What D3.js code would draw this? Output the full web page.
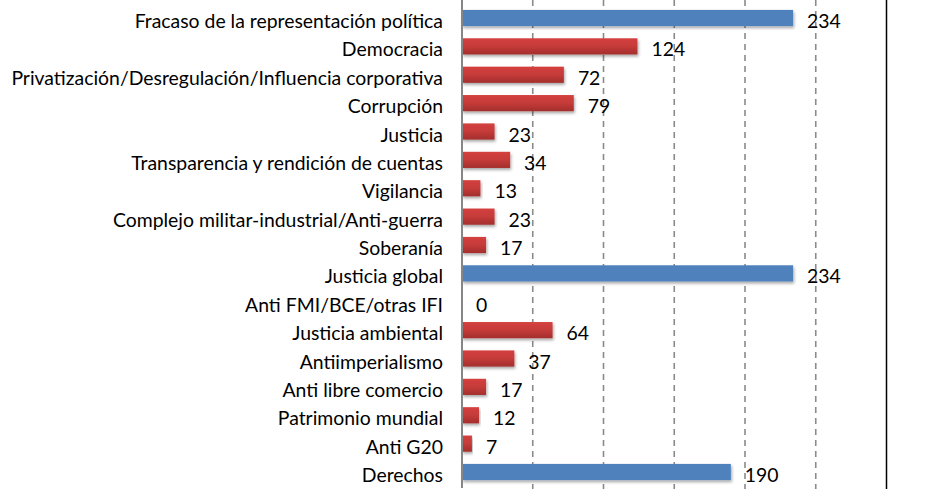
<!DOCTYPE html>
<html>
<head>
<meta charset="utf-8">
<script src="https://cdn.jsdelivr.net/npm/d3@7"></script>
<style>
  html, body { margin: 0; padding: 0; background: #fff; }
  svg { display: block; }
  text { font-family: "Lato", "Open Sans", sans-serif; }
</style>
</head>
<body>
<svg id="chart" width="930" height="489"></svg>
<script>
const categories = [
  "Fracaso de la representación política",
  "Democracia",
  "Privatización/Desregulación/Influencia corporativa",
  "Corrupción",
  "Justicia",
  "Transparencia y rendición de cuentas",
  "Vigilancia",
  "Complejo militar-industrial/Anti-guerra",
  "Soberanía",
  "Justicia global",
  "Anti FMI/BCE/otras IFI",
  "Justicia ambiental",
  "Antiimperialismo",
  "Anti libre comercio",
  "Patrimonio mundial",
  "Anti G20",
  "Derechos"
];
const values = [234, 124, 72, 79, 23, 34, 13, 23, 17, 234, 0, 64, 37, 17, 12, 7, 190];
const isGroup = [true, false, false, false, false, false, false, false, false, true, false, false, false, false, false, false, true];
const xTicks = [0, 50, 100, 150, 200, 250, 300];

const svg = d3.select("#chart");
const W = 930, H = 489;
const x0 = 462, x1 = 886.5;
const step = 28.375;
const firstCenter = 18;

const x = d3.scaleLinear().domain([0, 300]).range([x0, x1]);
const y = d3.scaleBand()
  .domain(categories)
  .range([firstCenter - step / 2, firstCenter - step / 2 + step * categories.length])
  .paddingInner(0.43).paddingOuter(0.215);

const defs = svg.append("defs");
const red = defs.append("linearGradient").attr("id", "redGrad").attr("x1", 0).attr("y1", 0).attr("x2", 0).attr("y2", 1);
red.append("stop").attr("offset", "0%").attr("stop-color", "#d4403e");
red.append("stop").attr("offset", "50%").attr("stop-color", "#c53b39");
red.append("stop").attr("offset", "100%").attr("stop-color", "#a32e2c");
const blur = defs.append("filter").attr("id", "shadow").attr("x", "-5%").attr("y", "-30%").attr("width", "115%").attr("height", "190%");
blur.append("feDropShadow").attr("dx", 1).attr("dy", 2).attr("stdDeviation", 1.5).attr("flood-color", "#000").attr("flood-opacity", 0.35);

// gridlines
svg.append("g").selectAll("line")
  .data(xTicks.filter(t => t > 0 && t < 300))
  .join("line")
  .attr("x1", d => x(d)).attr("x2", d => x(d))
  .attr("y1", 0).attr("y2", H)
  .attr("stroke", "#8a8a8a").attr("stroke-width", 1.6)
  .attr("stroke-dasharray", "6,5");

// right border line
svg.append("line")
  .attr("x1", x(300)).attr("x2", x(300)).attr("y1", 0).attr("y2", H)
  .attr("stroke", "#000").attr("stroke-width", 1.5);

// bars
svg.append("g").selectAll("rect")
  .data(categories)
  .join("rect")
  .attr("x", x(0))
  .attr("y", d => y(d))
  .attr("width", (d, i) => x(values[i]) - x(0))
  .attr("height", y.bandwidth())
  .attr("fill", (d, i) => isGroup[i] ? "#4f81bd" : "url(#redGrad)")
  .attr("filter", "url(#shadow)");

// axis line
svg.append("line")
  .attr("x1", x(0)).attr("x2", x(0)).attr("y1", 0).attr("y2", 488)
  .attr("stroke", "#868686").attr("stroke-width", 2);

// category labels
svg.append("g").selectAll("text")
  .data(categories)
  .join("text")
  .attr("x", 443)
  .attr("y", d => y(d) + y.bandwidth() / 2 + 10)
  .attr("text-anchor", "end")
  .attr("font-size", 19.4)
  .attr("fill", "#000")
  .text(d => d);

// value labels
svg.append("g").selectAll("text")
  .data(categories)
  .join("text")
  .attr("x", (d, i) => x(values[i]) + 14)
  .attr("y", d => y(d) + y.bandwidth() / 2 + 10)
  .attr("font-size", 19.4)
  .attr("fill", "#000")
  .text((d, i) => values[i]);
</script>
</body>
</html>
